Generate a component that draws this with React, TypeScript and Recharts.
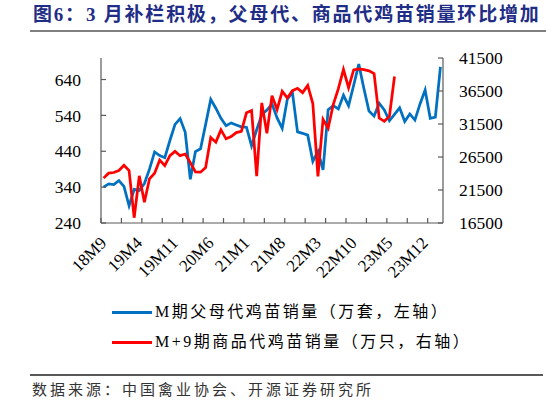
import React from 'react';
import { LineChart, Line, XAxis, YAxis } from 'recharts';

// 月份（M期），18M9 - 24M3
const months = [
  '18M9', '18M10', '18M11', '18M12',
  '19M1', '19M2', '19M3', '19M4', '19M5', '19M6', '19M7', '19M8', '19M9', '19M10', '19M11', '19M12',
  '20M1', '20M2', '20M3', '20M4', '20M5', '20M6', '20M7', '20M8', '20M9', '20M10', '20M11', '20M12',
  '21M1', '21M2', '21M3', '21M4', '21M5', '21M6', '21M7', '21M8', '21M9', '21M10', '21M11', '21M12',
  '22M1', '22M2', '22M3', '22M4', '22M5', '22M6', '22M7', '22M8', '22M9', '22M10', '22M11', '22M12',
  '23M1', '23M2', '23M3', '23M4', '23M5', '23M6', '23M7', '23M8', '23M9', '23M10', '23M11', '23M12',
  '24M1', '24M2', '24M3',
];

// 父母代鸡苗销量（万套，左轴）
const parentStock = [
  340, 349, 347, 358, 342, 288, 334, 331, 350, 390, 438, 428, 422, 470, 515, 531,
  493, 362, 439, 447, 515, 585, 560, 532, 511, 519, 513, 508, 507, 455, 500, 542,
  555, 572, 533, 504, 585, 604, 494, 490, 485, 412, 440, 388, 556, 567, 558, 596,
  567, 624, 683, 615, 552, 538, 574, 555, 525, 543, 561, 523, 544, 527, 572, 611,
  532, 535, 675,
];

// M+9期商品代鸡苗销量（万只，右轴）
const broilerChicks = [
  23300, 24050, 24150, 24450, 25250, 24450, 17300, 23650, 19650, 23200, 24050, 26050,
  25200, 26700, 27350, 26700, 26950, 25650, 24250, 24200, 24900, 29450, 28750, 30600,
  29250, 29600, 30200, 30400, 33200, 33550, 23600, 34700, 30100, 35800, 33700, 36450,
  35450, 36550, 36900, 36250, 37350, 34600, 23550, 32200, 30850, 34450, 36850, 39750,
  37000, 39700, 39850, 39750, 39550, 39150, 32400, 31900, 32650, 38700,
];

const leftTicks = [240, 340, 440, 540, 640];
const rightTicks = [16500, 21500, 26500, 31500, 36500, 41500];

const data = months.map((m, i) => ({
  m,
  parent: parentStock[i],
  broiler: i < broilerChicks.length ? broilerChicks[i] : undefined,
}));

const W = 546;
const H = 405;
const LEFT_W = 101;
const RIGHT_W = 103;
const PLOT_W = W - LEFT_W - RIGHT_W;
const BAND = PLOT_W / months.length;

const AXIS = '#595959';
const BLUE = '#0070C0';
const RED = '#FF0000';
const SERIF = "'Liberation Serif', 'Times New Roman', serif";
const CJK = "'Liberation Serif', 'Noto Sans CJK SC', serif";

const XTick = (props: any) => {
  const { x, y, payload } = props;
  const idx = months.indexOf(payload.value);
  const half = BAND / 2;
  return (
    <g>
      {idx % 4 === 0 && (
        <line x1={x - half} x2={x - half} y1={y} y2={y - 5} stroke={AXIS} strokeWidth={1.2} />
      )}
      {idx % 7 === 0 && (
        <text
          transform={`translate(${x + 4},${y + 21}) rotate(-45)`}
          textAnchor='end'
          fontFamily={SERIF}
          fontSize={17}
          fill='#000'
        >
          {payload.value}
        </text>
      )}
    </g>
  );
};

export default function App() {
  return (
    <div style={{ position: 'absolute', left: 0, top: 0, width: W, height: H, background: '#fff' }}>
      {/* Title */}
      <div
        style={{
          position: 'absolute',
          left: 33,
          top: 3,
          fontFamily: CJK,
          fontSize: 19,
          fontWeight: 'bold',
          color: '#1F2D86',
          letterSpacing: 1.8,
          whiteSpace: 'nowrap',
          lineHeight: '24px',
        }}
      >
        图6：3 月补栏积极，父母代、商品代鸡苗销量环比增加
      </div>
      <div style={{ position: 'absolute', left: 30, top: 30, width: W - 30, height: 2, background: '#7f7f7f' }} />

      <LineChart width={W} height={H} data={data} margin={{ top: 58, right: 0, bottom: 122, left: 0 }}>
        <XAxis
          dataKey='m'
          interval={0}
          height={60}
          padding={{ left: BAND / 2, right: BAND / 2 }}
          tickLine={false}
          tickSize={0}
          tickMargin={0}
          tick={<XTick />}
          axisLine={{ stroke: AXIS, strokeWidth: 1.2 }}
        />
        <YAxis
          yAxisId='left'
          width={LEFT_W}
          domain={[240, 700]}
          ticks={leftTicks}
          tickSize={-5}
          tickMargin={25}
          axisLine={{ stroke: AXIS, strokeWidth: 1.2 }}
          tickLine={{ stroke: AXIS, strokeWidth: 1.2 }}
          tick={{ fontFamily: SERIF, fontSize: 17.5, fill: '#000' }}
        />
        <YAxis
          yAxisId='right'
          orientation='right'
          width={RIGHT_W}
          domain={[16500, 41500]}
          ticks={rightTicks}
          tickSize={-5}
          tickMargin={21}
          axisLine={{ stroke: AXIS, strokeWidth: 1.2 }}
          tickLine={{ stroke: AXIS, strokeWidth: 1.2 }}
          tick={{ fontFamily: SERIF, fontSize: 17.5, fill: '#000', textAnchor: 'start' }}
        />
        <Line
          yAxisId='left'
          dataKey='parent'
          stroke={BLUE}
          strokeWidth={2.75}
          dot={false}
          type='linear'
          isAnimationActive={false}
        />
        <Line
          yAxisId='right'
          dataKey='broiler'
          stroke={RED}
          strokeWidth={2.75}
          dot={false}
          type='linear'
          isAnimationActive={false}
        />
      </LineChart>

      {/* Legend */}
      {[
        { color: BLUE, label: 'M期父母代鸡苗销量（万套，左轴）', y: 312 },
        { color: RED, label: 'M+9期商品代鸡苗销量（万只，右轴）', y: 342 },
      ].map((it) => (
        <div key={it.label}>
          <div style={{ position: 'absolute', left: 112, top: it.y - 1.5, width: 40, height: 3, background: it.color }} />
          <div
            style={{
              position: 'absolute',
              left: 155,
              top: it.y - 12,
              lineHeight: '24px',
              fontFamily: CJK,
              fontSize: 16,
              letterSpacing: 2.5,
              color: '#000',
              whiteSpace: 'nowrap',
            }}
          >
            {it.label}
          </div>
        </div>
      ))}

      {/* Source */}
      <div style={{ position: 'absolute', left: 30, top: 374, width: 513, height: 1.5, background: '#595959' }} />
      <div
        style={{
          position: 'absolute',
          left: 32,
          top: 379,
          lineHeight: '22px',
          fontFamily: CJK,
          fontSize: 15,
          letterSpacing: 3,
          color: '#333',
          whiteSpace: 'nowrap',
        }}
      >
        数据来源：中国禽业协会、开源证券研究所
      </div>
    </div>
  );
}
